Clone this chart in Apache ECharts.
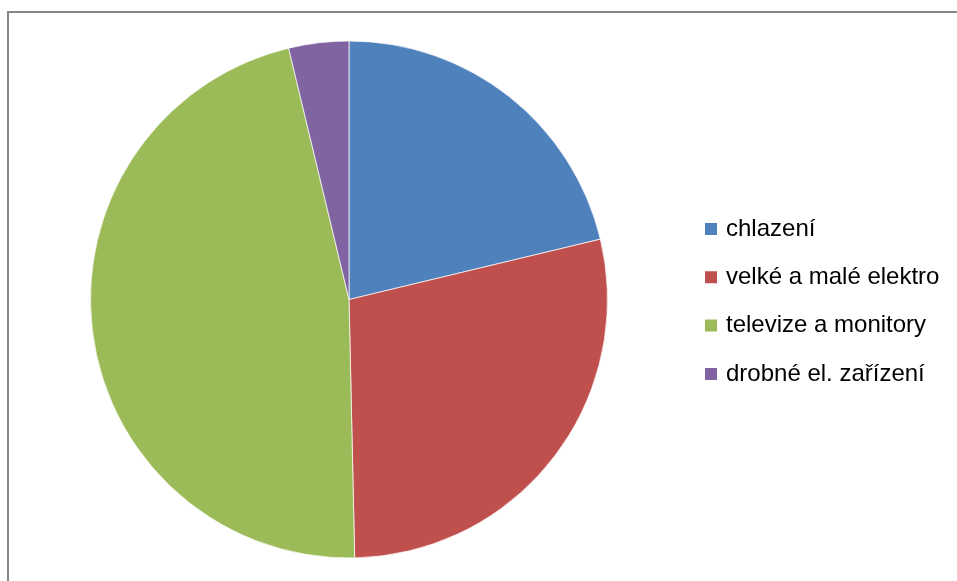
<!DOCTYPE html>
<html>
<head>
<meta charset="utf-8">
<script src="https://cdn.jsdelivr.net/npm/echarts@6/dist/echarts.min.js"></script>
<style>html,body{margin:0;padding:0;background:#fff;}#c{width:957px;height:581px;}</style>
</head>
<body>
<div id="c"></div>
<script>
var categories = ['chlazení', 'velké a malé elektro', 'televize a monitory', 'drobné el. zařízení'];
var values = [21.25, 28.4, 46.6, 3.75];
var colors = ['#4F81BD', '#C0504D', '#9BBB59', '#8064A2'];

var chart = echarts.init(document.getElementById('c'));
chart.setOption({
  animation: false,
  color: colors,
  graphic: [
    { type: 'polyline', shape: { points: [[8, 581], [8, 12], [957, 12]] }, style: { stroke: '#868686', lineWidth: 2, fill: null } }
  ],
  legend: {
    orient: 'vertical',
    left: 703,
    top: 217,
    padding: 0,
    icon: 'rect',
    itemWidth: 14,
    itemHeight: 14,
    itemGap: 24.3,
    textStyle: { fontFamily: 'Liberation Sans', fontSize: 24, lineHeight: 24, color: '#000', padding: [0, 0, 0, 3] },
    data: categories
  },
  series: [{
    type: 'pie',
    center: [349, 299.5],
    radius: 258.5,
    startAngle: 90,
    clockwise: true,
    label: { show: false },
    labelLine: { show: false },
    emphasis: { disabled: true },
    itemStyle: { borderColor: '#fff', borderWidth: 0.7 },
    data: categories.map(function (n, i) { return { name: n, value: values[i] }; })
  }]
});
</script>
</body>
</html>
